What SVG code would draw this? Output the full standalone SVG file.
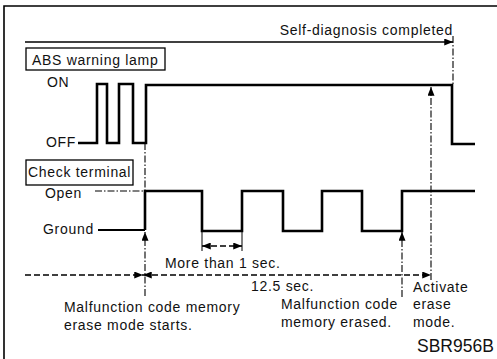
<svg xmlns="http://www.w3.org/2000/svg" width="497" height="359" viewBox="0 0 497 359">
<defs>
<marker id="ah" viewBox="0 0 10 8" refX="10" refY="4" markerWidth="9" markerHeight="7" markerUnits="userSpaceOnUse" orient="auto-start-reverse"><path d="M0,0 L10,4 L0,8 z" fill="#000"/></marker>
</defs>
<style>
text{font-family:"Liberation Sans",Arial,sans-serif;font-size:14px;letter-spacing:0.7px;fill:#111}
.big{font-size:17.5px;letter-spacing:0}
.wave{fill:none;stroke:#000;stroke-width:2.6;stroke-linejoin:miter}
.frame{fill:none;stroke:#000;stroke-width:1.6}
.dd{fill:none;stroke:#000;stroke-width:1.1;stroke-dasharray:7 2 1.5 2}
.dash{fill:none;stroke:#000;stroke-width:1.3;stroke-dasharray:6 3}
.solid{fill:none;stroke:#000;stroke-width:1.4}
.box{fill:#fff;stroke:#000;stroke-width:1.3}
</style>
<rect width="497" height="359" fill="#fff"/>
<path class="frame" d="M4,359 V6 H497"/>

<g id="lamp-label">
<rect class="box" x="26" y="48" width="139" height="22"/>
<text x="32" y="65">ABS warning lamp</text>
<text x="47" y="87">ON</text>
<text x="46" y="147">OFF</text>
</g>
<g id="lamp-wave">
<path class="wave" d="M78,143 H97 V84 H107 V143 H119 V84 H133 V143 H146 V85 H452 V144 H475"/>
</g>

<g id="check-label">
<rect class="box" x="26" y="160" width="107" height="25"/>
<text x="28" y="177">Check terminal</text>
<text x="45" y="198">Open</text>
<text x="43" y="234">Ground</text>
</g>
<g id="check-wave">
<line class="dd" x1="95" y1="191" x2="145" y2="191"/>
<line class="solid" style="stroke-width:2" x1="98" y1="230" x2="145" y2="230"/>
<path class="wave" d="M145,230 V191 H202 V231 H242 V191 H283 V231 H322 V191 H362 V231 H402 V191 H475"/>
</g>

<g id="connectors">
<line class="solid" x1="25" y1="42" x2="453" y2="42" marker-end="url(#ah)"/>
<line class="dd" x1="453" y1="36" x2="453" y2="85"/>
<line class="dd" x1="145" y1="143" x2="145" y2="191"/>
<line class="dd" x1="145" y1="296" x2="145" y2="232" marker-end="url(#ah)"/>
<line class="dd" x1="431" y1="280" x2="431" y2="87" marker-end="url(#ah)"/>
<line class="dd" x1="402" y1="297" x2="402" y2="232" marker-end="url(#ah)"/>
<line class="dash" x1="25" y1="275" x2="143" y2="275" marker-end="url(#ah)"/>
<line class="dash" x1="143" y1="275" x2="431" y2="275" marker-start="url(#ah)" marker-end="url(#ah)"/>
<line class="solid" style="stroke-width:1" x1="202" y1="231" x2="202" y2="251"/>
<line class="solid" style="stroke-width:1" x1="242" y1="231" x2="242" y2="251"/>
<line class="dash" x1="202" y1="246" x2="242" y2="246" marker-start="url(#ah)" marker-end="url(#ah)"/>
</g>

<g id="labels">
<text x="453" y="35" text-anchor="end">Self-diagnosis completed</text>
<text x="165" y="268">More than 1 sec.</text>
<text x="251" y="291">12.5 sec.</text>
<text x="64" y="312">Malfunction code memory</text>
<text x="64" y="330">erase mode starts.</text>
<text x="281" y="309">Malfunction code</text>
<text x="281" y="327">memory erased.</text>
<text x="413" y="292">Activate</text>
<text x="413" y="309">erase</text>
<text x="413" y="327">mode.</text>
<text class="big" x="417" y="352">SBR956B</text>
</g>
</svg>
